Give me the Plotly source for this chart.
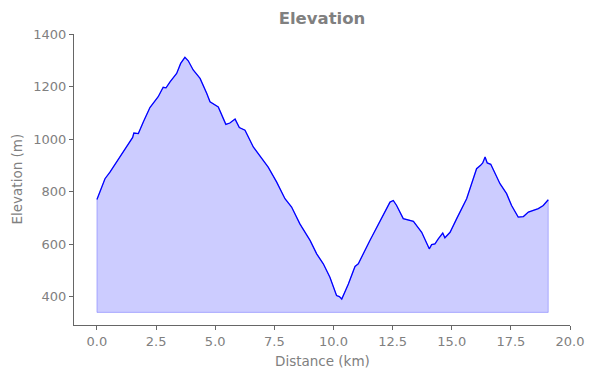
import plotly.graph_objects as go

distance_km = [0, 0.13, 0.34, 0.55, 0.69, 0.97, 1.25, 1.51, 1.56, 1.75, 1.96, 2.24, 2.59, 2.80, 2.92,
               3.09, 3.37, 3.54, 3.72, 3.86, 4.07, 4.36, 4.64, 4.78, 5.13, 5.45, 5.62, 5.84, 6.02, 6.26,
               6.61, 6.89, 7.24, 7.60, 7.95, 8.23, 8.58, 9.01, 9.29, 9.57, 9.85, 10.13, 10.25, 10.35,
               10.63, 10.91, 11.05, 11.54, 11.83, 12.18, 12.39, 12.53, 12.67, 12.95, 13.16, 13.38,
               13.73, 13.87, 14.05, 14.15, 14.29, 14.43, 14.62, 14.71, 14.93, 15.21, 15.49, 15.63,
               15.84, 16.05, 16.22, 16.31, 16.41, 16.50, 16.65, 16.83, 17.04, 17.32, 17.53, 17.81,
               18.03, 18.24, 18.45, 18.66, 18.87, 19.08]
elevation_m = [770, 798, 849, 874, 893, 932, 970, 1006, 1023, 1021, 1065, 1120, 1161, 1197, 1195,
               1218, 1250, 1288, 1311, 1298, 1263, 1231, 1174, 1142, 1122, 1056, 1061, 1076, 1044, 1034,
               970, 934, 893, 836, 773, 741, 677, 614, 563, 525, 474, 404, 400, 391,
               448, 515, 525, 614, 664, 722, 760, 766, 747, 697, 693, 687,
               645, 620, 582, 598, 601, 620, 642, 624, 645, 697, 747, 773,
               830, 887, 900, 909, 932, 909, 904, 868, 830, 792, 747, 703,
               705, 722, 728, 735, 747, 769]
fill_base = 340

x_ticks = [0.0, 2.5, 5.0, 7.5, 10.0, 12.5, 15.0, 17.5, 20.0]
y_ticks = [400, 600, 800, 1000, 1200, 1400]

GRAY = "#808080"
SPINE = "#666666"
FONT = "DejaVu Sans"

fig = go.Figure()
fig.add_trace(go.Scatter(
    x=distance_km + [distance_km[-1], distance_km[0], distance_km[0]],
    y=elevation_m + [fill_base, fill_base, elevation_m[0]],
    mode="lines", fill="toself", fillcolor="rgba(0,0,255,0.2)",
    line=dict(color="rgba(0,0,255,0.25)", width=1), hoverinfo="skip", showlegend=False))
fig.add_trace(go.Scatter(
    x=distance_km, y=elevation_m, mode="lines",
    line=dict(color="#0000ff", width=1.3), showlegend=False))

axis_common = dict(showgrid=False, zeroline=False, showline=True, linecolor=SPINE, linewidth=1,
                   ticks="outside", ticklen=4, tickcolor=SPINE, tickwidth=1,
                   tickfont=dict(family=FONT, size=13, color=GRAY),
                   mirror=False, automargin=False)

# page body adds an 8px offset; margins compensate for it
fig.update_layout(
    width=594, height=378,
    margin=dict(l=66, r=32, t=26, b=61, autoexpand=False),
    paper_bgcolor="white", plot_bgcolor="white",
    title=dict(text="<b>Elevation</b>", x=0.5, xref="paper", y=1 - 10 / 378, yref="container",
               xanchor="center", yanchor="middle",
               font=dict(family=FONT, size=16.5, color=GRAY)),
    xaxis=dict(range=[-0.97, 20.0], tickvals=x_ticks, ticktext=[f"{v:.1f}" for v in x_ticks],
               **axis_common),
    yaxis=dict(range=[292, 1400], tickvals=y_ticks, ticktext=[str(v) for v in y_ticks],
               **axis_common),
    annotations=[
        dict(text="Distance (km)", x=0.5, y=0, xref="paper", yref="paper",
             xanchor="center", yanchor="middle", yshift=-36, showarrow=False,
             font=dict(family=FONT, size=13.5, color=GRAY)),
        dict(text="Elevation (m)", x=0, y=0.5, xref="paper", yref="paper",
             xanchor="center", yanchor="middle", xshift=-58, textangle=-90, showarrow=False,
             font=dict(family=FONT, size=13.5, color=GRAY)),
    ],
)
fig.write_html("out.html")
